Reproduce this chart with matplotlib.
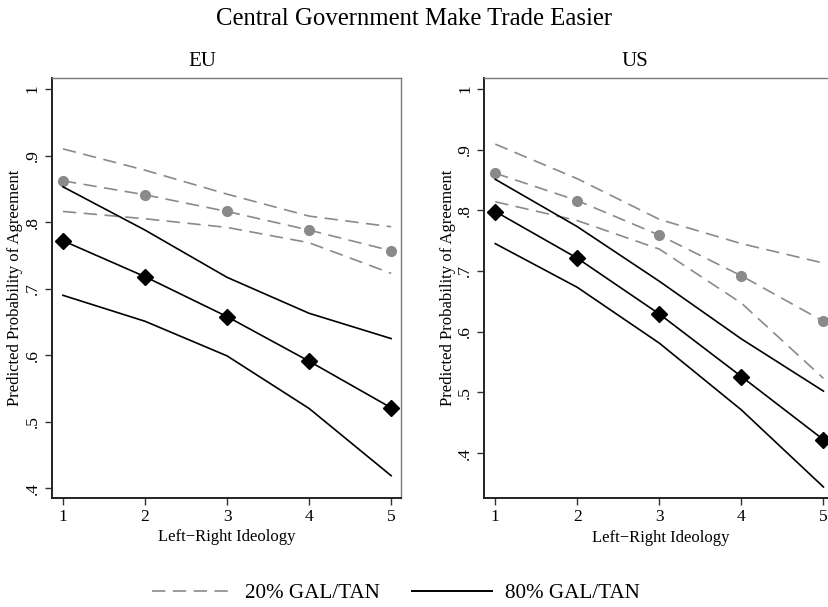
import matplotlib.pyplot as plt

plt.rcParams["font.family"] = ["Liberation Serif", "DejaVu Serif"]

ideology = [1, 2, 3, 4, 5]

# EU: predicted probability with 95% bounds
eu_low_mean = [0.862, 0.841, 0.816, 0.788, 0.757]
eu_low_upper = [0.910, 0.878, 0.842, 0.809, 0.793]
eu_low_lower = [0.816, 0.805, 0.792, 0.769, 0.723]
eu_high_mean = [0.772, 0.718, 0.658, 0.591, 0.521]
eu_high_upper = [0.853, 0.788, 0.717, 0.663, 0.625]
eu_high_lower = [0.690, 0.651, 0.599, 0.520, 0.419]

# US
us_low_mean = [0.861, 0.816, 0.759, 0.692, 0.617]
us_low_upper = [0.909, 0.852, 0.785, 0.745, 0.713]
us_low_lower = [0.814, 0.783, 0.736, 0.647, 0.523]
us_high_mean = [0.798, 0.721, 0.629, 0.526, 0.422]
us_high_upper = [0.851, 0.773, 0.683, 0.588, 0.502]
us_high_lower = [0.745, 0.673, 0.581, 0.471, 0.344]

yticks = [0.4, 0.5, 0.6, 0.7, 0.8, 0.9, 1.0]
ylabels = [".4", ".5", ".6", ".7", ".8", ".9", "1"]

GREY = "#8a8a8a"
DASH = (0, (8, 4.5))


def draw_panel(ax, low, high, ylim):
    low_mean, low_upper, low_lower = low
    high_mean, high_upper, high_lower = high

    ax.plot(ideology, low_upper, color=GREY, lw=1.2, ls=DASH)
    ax.plot(ideology, low_lower, color=GREY, lw=1.2, ls=DASH)
    ax.plot(ideology, low_mean, color=GREY, lw=1.2, ls=DASH,
            marker="o", ms=7, mfc=GREY, mec=GREY)

    ax.plot(ideology, high_upper, color="black", lw=1.2)
    ax.plot(ideology, high_lower, color="black", lw=1.2)
    ax.plot(ideology, high_mean, color="black", lw=1.2,
            marker="D", ms=8, mfc="black", mec="black")

    ax.set_xlim(0.866, 5.12)
    ax.set_ylim(*ylim)
    ax.set_xticks(ideology)
    ax.set_yticks(yticks)
    ax.set_yticklabels(ylabels, rotation=90, va="center")
    ax.tick_params(labelsize=12.5, length=5, width=1, pad=3, color="#333333")

    ax.set_xlabel("Left\u2212Right Ideology", fontsize=12, labelpad=3)
    ax.set_ylabel("Predicted Probability of Agreement", fontsize=12,
                  labelpad=1)

    for side in ["top", "right"]:
        ax.spines[side].set_color("#777777")
        ax.spines[side].set_linewidth(1.0)
    for side in ["left", "bottom"]:
        ax.spines[side].set_color("#222222")
        ax.spines[side].set_linewidth(1.4)


fig = plt.figure(figsize=(8.29, 6.07), dpi=100)

ax_eu = fig.add_axes([0.0627, 0.1796, 0.421, 0.6919])
ax_us = fig.add_axes([0.5842, 0.1791, 0.425, 0.6924])

draw_panel(
    ax_eu,
    (eu_low_mean, eu_low_upper, eu_low_lower),
    (eu_high_mean, eu_high_upper, eu_high_lower),
    (0.3855, 1.0165),
)
draw_panel(
    ax_us,
    (us_low_mean, us_low_upper, us_low_lower),
    (us_high_mean, us_high_upper, us_high_lower),
    (0.3254, 1.018),
)
# same x scale on the wider US axes; its right edge runs off the page
ax_us.set_xlim(0.866, 0.866 + (5.12 - 0.866) * 0.425 / 0.421)
ax_us.spines["right"].set_visible(False)

fig.text(202 / 829, 1 - 62 / 607, "EU", ha="center", va="center", fontsize=15)
fig.text(635 / 829, 1 - 62 / 607, "US", ha="center", va="center", fontsize=15)
fig.text(0.5, 1 - 19 / 607, "Central Government Make Trade Easier",
         ha="center", va="center", fontsize=17.8)

leg_low = plt.Line2D([], [], color=GREY, lw=1.2, ls=DASH)
leg_high = plt.Line2D([], [], color="black", lw=1.4)
fig.legend([leg_low, leg_high], ["20% GAL/TAN", "80% GAL/TAN"],
           loc="center", bbox_to_anchor=(396 / 829, 1 - 593 / 607), ncol=2,
           frameon=False, fontsize=15.2, handlelength=3.8, handletextpad=0.6,
           columnspacing=1.5)

fig.savefig("out.png", dpi=100)
